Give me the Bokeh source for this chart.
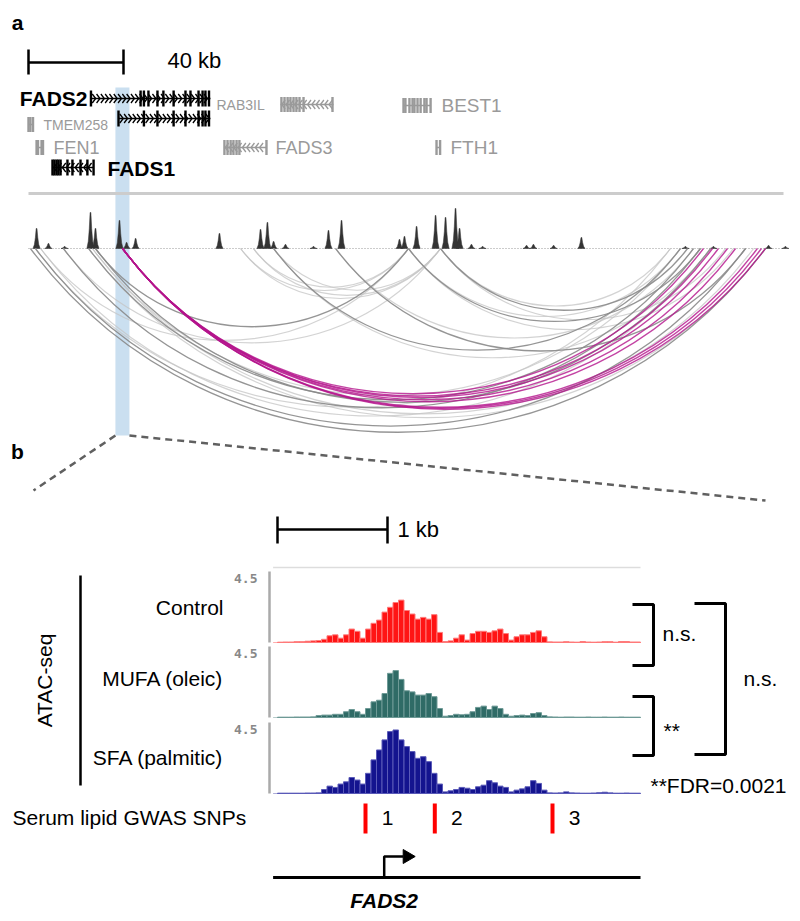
import numpy as np
from bokeh.plotting import figure
from bokeh.models import Range1d, Label
from bokeh.embed import file_html
from bokeh.resources import INLINE

FONT = "Liberation Sans"

# ======================= DATA =======================
# ---- panel a : genomic coordinates, kb from left edge of the view ----
scale_bar_kb = 40
highlight_kb = [36.6, 42.5]

gene_names = ["FADS2", "FADS2", "TMEM258", "FEN1", "FADS1", "RAB3IL", "FADS3", "BEST1", "FTH1"]
gene_start = [26.3, 37.9, 0.0, 3.4, 10.1, 106.1, 82.3, 157.9, 171.8]
gene_end = [76.6, 76.6, 1.9, 6.1, 27.4, 128.4, 100.2, 169.3, 173.3]
gene_strand = ["+", "+", "", "", "-", "-", "-", "", ""]
gene_key = [True, True, False, False, True, False, False, False, False]
gene_exons = [
    [26.3, 47.2, 48.6, 50.5, 54.3, 56.8, 61.1, 66.1, 68.2, 71.6, 73.3, 74.5, 76.0],
    [37.9, 48.6, 54.3, 61.1, 66.1, 71.6, 73.3, 74.5, 76.0],
    [0.0, 0.8, 1.9],
    [3.4, 4.0, 5.5, 6.1],
    [10.1, 10.9, 11.8, 12.6, 13.5, 16.4, 18.5, 21.9, 24.8, 27.4],
    [106.5, 107.8, 109.1, 110.3, 111.6, 112.8, 114.1, 115.8, 128.0],
    [82.5, 83.8, 85.1, 86.3, 87.6, 88.8, 100.2],
    [157.9, 158.7, 160.4, 161.7, 162.5, 163.8, 165.1, 166.7, 167.6, 169.3],
    [171.8, 173.3],
]

peak_pos_kb = [3.4, 8.4, 15.2, 26.1, 28.2, 38.3, 41.3, 45.1, 80.4, 97.7, 100.6, 103.2,
               108.2, 120.0, 126.3, 131.8, 156.2, 158.3, 163.4, 171.4, 175.6, 179.8,
               181.5, 186.5, 191.2, 209.7, 212.6, 221.1, 232.8, 276.6, 288.4, 311.6, 318.7]
peak_signal = [20, 5, 2, 36, 20, 28, 6, 10, 15, 19, 26, 7,
               4, 2, 18, 28, 9, 12, 22, 33, 31, 40,
               20, 4, 2, 3, 4, 3, 11, 2, 2, 3, 2]

# chromatin loops (anchor kb)
loop_dark_start = [0.8, 2.9, 14.7, 25.3, 28.2, 103.2, 129.3, 160.0, 173.5, 28.2]
loop_dark_end = [310.3, 301.9, 282.9, 280.0, 287.2, 274.5, 301.9, 282.9, 277.5, 160.0]
loop_light_start = [5.1, 26.9, 25.3, 5.1, 14.7, 89.3, 94.7, 103.2, 89.3, 26.9, 2.9,
                    94.7, 103.2, 129.3, 160.0, 173.5, 160.0, 173.5]
loop_light_end = [287.2, 274.5, 310.3, 160.0, 173.5, 173.5, 160.0, 173.5, 160.0, 305.3, 270.3,
                  173.5, 287.2, 280.0, 274.5, 270.3, 296.8, 293.5]
loop_fads2_start = [39.6, 39.6, 39.6, 39.6, 39.6, 39.6, 39.6, 39.6]
loop_fads2_end = [284.2, 288.0, 290.5, 294.3, 297.7, 306.9, 308.6, 310.3]

# ---- panel b : ATAC-seq, kb from left edge of the zoomed view ----
bin_kb = 0.05
atac_max = 4.5
track_names = ["Control", "MUFA (oleic)", "SFA (palmitic)"]
track_colors = ["#ff1414", "#2f6b66", "#14148f"]
track_stripe = ["#ff7a7a", "#6e9a96", "#5a5ab8"]
control = [0.02, 0.03, 0.03, 0.05, 0.05, 0.08, 0.10, 0.12, 0.20, 0.42, 0.48, 0.27, 0.48, 0.84,
           0.70, 0.27, 0.84, 1.20, 1.40, 1.90, 2.20, 2.50, 2.65, 2.00, 1.78, 1.46, 1.57, 1.46,
           1.74, 0.63, 0.06, 0.10, 0.27, 0.48, 0.15, 0.56, 0.70, 0.70, 0.63, 0.73, 0.84, 0.56,
           0.15, 0.36, 0.48, 0.48, 0.63, 0.73, 0.36, 0.04, 0.03, 0.03, 0.05, 0.03, 0.02, 0.06,
           0.03, 0.02, 0.03, 0.05, 0.05, 0.02, 0.06, 0.06, 0.03, 0.03]
mufa = [0.02, 0.02, 0.02, 0.03, 0.03, 0.03, 0.04, 0.12, 0.15, 0.15, 0.20, 0.20, 0.36, 0.50,
        0.36, 0.20, 0.56, 0.98, 1.08, 1.50, 2.76, 2.93, 2.38, 1.67, 1.60, 1.40, 1.40, 1.50,
        1.30, 0.56, 0.08, 0.12, 0.20, 0.17, 0.20, 0.36, 0.63, 0.71, 0.50, 0.71, 0.56, 0.20,
        0.08, 0.12, 0.15, 0.12, 0.25, 0.30, 0.12, 0.04, 0.03, 0.02, 0.03, 0.03, 0.02, 0.02,
        0.03, 0.02, 0.02, 0.03, 0.02, 0.02, 0.03, 0.02, 0.02, 0.02]
sfa = [0.02, 0.02, 0.02, 0.02, 0.02, 0.03, 0.03, 0.04, 0.25, 0.46, 0.38, 0.59, 0.73, 1.00,
       0.84, 0.59, 1.26, 2.10, 2.72, 3.35, 3.87, 3.97, 3.35, 2.93, 2.62, 2.20, 2.30, 1.99,
       1.26, 0.59, 0.10, 0.17, 0.25, 0.38, 0.33, 0.25, 0.42, 0.52, 0.80, 0.67, 0.46, 0.38,
       0.10, 0.21, 0.29, 0.42, 0.80, 0.63, 0.21, 0.04, 0.03, 0.04, 0.10, 0.04, 0.03, 0.02,
       0.02, 0.03, 0.05, 0.08, 0.04, 0.02, 0.02, 0.03, 0.02, 0.02]
tracks = [control, mufa, sfa]

snp_kb = [0.80, 1.43, 2.50]
snp_labels = ["1", "2", "3"]
tss_kb = 0.97
gene_b_kb = [-0.04, 3.30]
scale_b_kb = 1

stats_pairs = ["n.s.", "**", "n.s."]
fdr_note = "**FDR=0.0021"

# ======================= LAYOUT =======================
GX0, GS = 28.0, 2.375        # panel a: px = GX0 + kb*GS
TX0, TS = 277.0, 110.0       # panel b: px = TX0 + kb*TS
W, H = 796, 917


def gx(kb):
    return GX0 + np.asarray(kb, dtype=float) * GS


def tx(kb):
    return TX0 + np.asarray(kb, dtype=float) * TS


p = figure(width=W, height=H, x_range=Range1d(0, W), y_range=Range1d(H, 0),
           min_border=0, toolbar_location=None, output_backend="svg")
p.xaxis.visible = False
p.yaxis.visible = False
p.xgrid.visible = False
p.ygrid.visible = False
p.outline_line_color = None
p.background_fill_color = "white"
p.border_fill_color = "white"


def label(x, y, s, size=21, color="black", align="left", style="normal", font=FONT, angle=0.0):
    p.add_layout(Label(x=x, y=y, text=s, text_align=align, text_baseline="middle",
                       text_font_size=f"{size}px", text_color=color, text_font_style=style,
                       text_font=font, angle=angle))


# ---------------- panel a ----------------
label(17, 22, "a", size=21, style="bold", align="center")

# scale bar
sb0, sb1 = gx(0), gx(scale_bar_kb)
p.segment(x0=[sb0, sb0, sb1], y0=[62, 49, 49], x1=[sb1, sb0, sb1], y1=[62, 74, 74],
          line_color="black", line_width=2.5)
label(sb1 + 44, 60, "40 kb", size=22)

# highlight column
hx = gx(highlight_kb)
p.quad(left=hx[0], right=hx[1], top=87, bottom=435, fill_color="#cadff0",
       line_color=None)

# genes
gene_row_y = [98, 118, 124, 147, 167, 104, 147, 105, 147]
GRAY = "#9a9a9a"
for name, s, e, strand, key, exons, gy in zip(gene_names, gene_start, gene_end, gene_strand,
                                               gene_key, gene_exons, gene_row_y):
    col = "black" if key else GRAY
    x0, x1 = float(gx(s)), float(gx(e))
    p.segment(x0=[x0], y0=[gy], x1=[x1], y1=[gy], line_color=col, line_width=1.3)
    if strand:
        cxs = np.arange(x0 + 3, x1 - 1, 4.3)
        d = 1.7 if strand == "+" else -1.7
        xs = [[c - d, c + d, c - d] for c in cxs]
        ys = [[gy - 4.5, gy, gy + 4.5] for _ in cxs]
        p.multi_line(xs=xs, ys=ys, line_color=col, line_width=1.3)
    ex = gx(exons)
    p.rect(x=ex, y=[gy] * len(ex), width=2.4, height=16 if key else 15,
           fill_color=col, line_color=None)

label(87, 98, "FADS2", style="bold", align="right")
label(107, 168, "FADS1", style="bold")
label(216, 104, "RAB3IL", size=14, color=GRAY)
label(43, 124, "TMEM258", size=14, color=GRAY)
label(53, 147, "FEN1", size=18, color=GRAY)
label(275, 147, "FADS3", size=18, color=GRAY)
label(441, 105, "BEST1", size=19, color=GRAY)
label(450, 147, "FTH1", size=19, color=GRAY)

# separator
p.segment(x0=[gx(0)], y0=[193], x1=[783], y1=[193], line_color="#cccccc", line_width=3)

# peaks
BASE = 248
p.segment(x0=[gx(0)], y0=[BASE], x1=[786], y1=[BASE], line_color="#999999",
          line_width=1, line_dash="1 2")
pxs, pys = [], []
for pos, h in zip(peak_pos_kb, peak_signal):
    c = float(gx(pos))
    pxs.append([c - 3.6, c - 2.2, c - 1.2, c - 0.4, c + 0.4, c + 1.2, c + 2.2, c + 3.6])
    pys.append([BASE, BASE - 0.2 * h, BASE - 0.55 * h, BASE - h, BASE - h,
                BASE - 0.55 * h, BASE - 0.2 * h, BASE])
p.patches(xs=pxs, ys=pys, fill_color="#333333", line_color="#333333", line_width=0.5)


# loops as arcs hanging below the baseline
def arcs(starts, ends, color, width, alpha):
    a = gx(starts)
    b = gx(ends)
    span = b - a
    n = len(a)
    p.bezier(x0=a, y0=[BASE] * n, x1=b, y1=[BASE] * n,
             cx0=a + span / 4, cy0=BASE + span / 3, cx1=b - span / 4, cy1=BASE + span / 3,
             line_color=color, line_width=width, line_alpha=alpha)


arcs(loop_light_start, loop_light_end, "#c4c4c4", 1.2, 0.75)
arcs(loop_dark_start, loop_dark_end, "#8a8a8a", 1.3, 0.9)
arcs(loop_fads2_start, loop_fads2_end, "#b4148c", 1.4, 0.8)

# zoom connectors
p.segment(x0=[hx[0], hx[1]], y0=[435, 435], x1=[33, 765], y1=[490, 500],
          line_color="#606060", line_width=2.5, line_dash="7 5")

label(17, 451, "b", size=21, style="bold", align="center")

# ---------------- panel b ----------------
b0, b1 = float(tx(0)), float(tx(scale_b_kb))
p.segment(x0=[b0, b0, b1], y0=[529, 516, 516], x1=[b1, b0, b1], y1=[529, 543, 543],
          line_color="black", line_width=2.5)
label(b1 + 10, 529, "1 kb", size=22)

p.segment(x0=[tx(gene_b_kb[0])], y0=[567], x1=[tx(gene_b_kb[1])], y1=[567],
          line_color="#dddddd", line_width=1.5)

track_base = [642, 717, 793]
track_label_y = [607, 678, 757]
TH = 72.0
centers = tx((np.arange(len(control)) + 0.5) * bin_kb)
for vals, col, stripe, base, name, ly in zip(tracks, track_colors, track_stripe, track_base,
                                              track_names, track_label_y):
    p.segment(x0=[269], y0=[base - TH + 1], x1=[269], y1=[base], line_color="#aaaaaa",
              line_width=2.5)
    label(257, base - 64, f"{atac_max}", size=13, color="#888888", align="right",
          font="DejaVu Sans Mono", style="bold")
    p.segment(x0=[tx(gene_b_kb[0])], y0=[base], x1=[tx(gene_b_kb[1])], y1=[base],
              line_color=col, line_alpha=0.35, line_width=1.2)
    tops = base - np.asarray(vals) / atac_max * TH
    p.vbar(x=centers, width=bin_kb * TS, bottom=base, top=tops, fill_color=col,
           line_color=stripe, line_width=1)
    label(223, ly, name, align="right")

# ATAC-seq group label
p.segment(x0=[80], y0=[575], x1=[80], y1=[785], line_color="black", line_width=2.5)
label(44, 680, "ATAC-seq", align="center", angle=np.pi / 2)

# significance brackets
p.multi_line(xs=[[632, 653, 653, 632], [632, 653, 653, 632], [694, 725, 725, 694]],
             ys=[[604, 604, 665, 665], [696, 696, 755, 755], [603, 603, 754, 754]],
             line_color="black", line_width=3)
label(662, 633, stats_pairs[0])
label(663, 730, stats_pairs[1])
label(743, 678, stats_pairs[2])
label(650, 785, fdr_note)

# SNPs
label(12, 817, "Serum lipid GWAS SNPs")
sx = tx(snp_kb)
p.segment(x0=sx, y0=[803] * 3, x1=sx, y1=[833] * 3, line_color="#ff0000", line_width=4)
for x, s in zip(sx, snp_labels):
    label(float(x) + 22, 817, s, align="center")

# gene model
p.segment(x0=[tx(gene_b_kb[0])], y0=[877], x1=[tx(gene_b_kb[1])], y1=[877],
          line_color="black", line_width=3)
tsx = float(tx(tss_kb))
p.line(x=[tsx, tsx, tsx + 19], y=[877, 856, 856], line_color="black", line_width=2.5)
p.patch(x=[tsx + 19, tsx + 31, tsx + 19], y=[849, 856, 863], fill_color="black",
        line_color="black")
label(tsx, 900, "FADS2", style="bold italic", align="center")

open("out.html", "w").write(file_html(p, INLINE))
